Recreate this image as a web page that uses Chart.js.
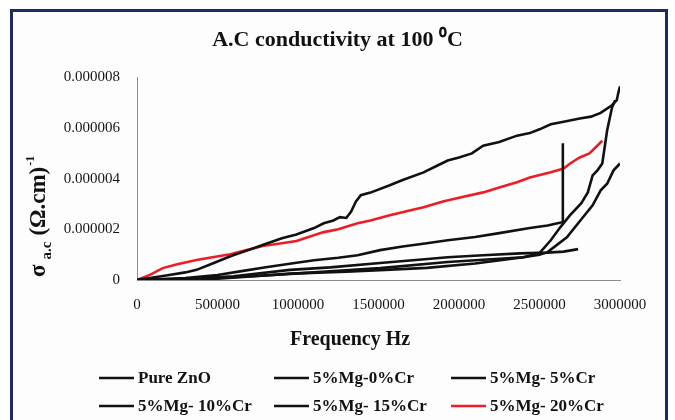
<!DOCTYPE html>
<html>
<head>
<meta charset="utf-8">
<script src="https://cdn.jsdelivr.net/npm/chart.js@4/dist/chart.umd.min.js"></script>
<style>
  html, body { margin: 0; padding: 0; background: #fff; }
  #marco {
    position: absolute; left: 10px; top: 9px; width: 652px; height: 420px;
    border: 3px solid #1d2b5e; border-bottom: none; background: #fdfdfe;
  }
  #grafica { position: absolute; left: 0; top: 0; }
</style>
</head>
<body>
<div id="marco"></div>
<canvas id="grafica" width="675" height="420"></canvas>
<script>
// Textos
const tituloGrafico = "A.C conductivity at 100 \u2070C";
const tituloX = "Frequency Hz";
const etiquetas = ["Pure ZnO", "5%Mg-0%Cr", "5%Mg- 5%Cr", "5%Mg- 10%Cr", "5%Mg- 15%Cr", "5%Mg- 20%Cr"];
const colores = ["#111111", "#111111", "#111111", "#111111", "#111111", "#ee1c24"];

// Ticks
const ticksX = [0, 500000, 1000000, 1500000, 2000000, 2500000, 3000000];
const ticksY = [0, 0.000002, 0.000004, 0.000006, 0.000008];

// Pure ZnO
const fA = [0, 100000, 200000, 300000, 370000, 450000, 580000, 700000, 780000, 900000, 990000, 1100000, 1160000, 1220000, 1260000, 1300000, 1330000, 1360000, 1390000, 1450000, 1570000, 1650000, 1780000, 1860000, 1930000, 2000000, 2080000, 2150000, 2250000, 2360000, 2440000, 2500000, 2570000, 2650000, 2750000, 2820000, 2880000, 2950000, 2980000, 2990000, 3000000];
const sA = [0, 0.1e-6, 0.2e-6, 0.3e-6, 0.4e-6, 0.6e-6, 0.94e-6, 1.2e-6, 1.38e-6, 1.65e-6, 1.8e-6, 2.05e-6, 2.24e-6, 2.35e-6, 2.48e-6, 2.45e-6, 2.7e-6, 3.1e-6, 3.35e-6, 3.45e-6, 3.74e-6, 3.95e-6, 4.25e-6, 4.5e-6, 4.72e-6, 4.84e-6, 5.0e-6, 5.3e-6, 5.45e-6, 5.7e-6, 5.8e-6, 5.95e-6, 6.15e-6, 6.25e-6, 6.38e-6, 6.45e-6, 6.6e-6, 6.9e-6, 7.1e-6, 7.4e-6, 7.65e-6];

// 5%Mg-0%Cr
const fB = [0, 300000, 500000, 650000, 800000, 980000, 1100000, 1250000, 1370000, 1510000, 1650000, 1800000, 1930000, 2100000, 2250000, 2440000, 2550000, 2640000, 2645000];
const sB = [0, 0.08e-6, 0.2e-6, 0.35e-6, 0.5e-6, 0.67e-6, 0.78e-6, 0.88e-6, 0.98e-6, 1.18e-6, 1.32e-6, 1.45e-6, 1.57e-6, 1.7e-6, 1.85e-6, 2.05e-6, 2.15e-6, 2.28e-6, 5.4e-6];

// 5%Mg- 5%Cr
const fC = [0, 400000, 800000, 1100000, 1510000, 1930000, 2200000, 2400000, 2500000, 2570000, 2630000, 2690000, 2760000, 2800000, 2830000, 2860000, 2890000, 2920000, 2950000, 2970000];
const sC = [0, 0.05e-6, 0.18e-6, 0.3e-6, 0.47e-6, 0.71e-6, 0.82e-6, 0.9e-6, 1.06e-6, 1.57e-6, 2.09e-6, 2.56e-6, 3.03e-6, 3.46e-6, 4.13e-6, 4.33e-6, 4.6e-6, 5.9e-6, 6.8e-6, 7.1e-6];

// 5%Mg- 10%Cr
const fD = [0, 500000, 950000, 1300000, 1510000, 1800000, 2100000, 2400000, 2500000, 2550000, 2670000, 2770000, 2830000, 2880000, 2920000, 2960000, 3000000];
const sD = [0, 0.05e-6, 0.25e-6, 0.33e-6, 0.39e-6, 0.48e-6, 0.65e-6, 0.9e-6, 1.0e-6, 1.1e-6, 1.69e-6, 2.48e-6, 2.95e-6, 3.54e-6, 3.8e-6, 4.33e-6, 4.6e-6];

// 5%Mg- 15%Cr
const fE = [0, 300000, 600000, 950000, 1200000, 1510000, 1750000, 1930000, 2150000, 2380000, 2550000, 2650000, 2740000];
const sE = [0, 0.05e-6, 0.15e-6, 0.4e-6, 0.5e-6, 0.67e-6, 0.8e-6, 0.9e-6, 0.98e-6, 1.05e-6, 1.08e-6, 1.12e-6, 1.22e-6];

// 5%Mg- 20%Cr (rojo)
const fF = [0, 80000, 160000, 250000, 370000, 450000, 580000, 680000, 780000, 900000, 990000, 1160000, 1250000, 1370000, 1450000, 1570000, 1700000, 1780000, 1900000, 2000000, 2150000, 2250000, 2360000, 2440000, 2570000, 2650000, 2690000, 2750000, 2810000, 2890000];
const sF = [0, 0.2e-6, 0.47e-6, 0.62e-6, 0.79e-6, 0.88e-6, 1.02e-6, 1.18e-6, 1.34e-6, 1.45e-6, 1.54e-6, 1.89e-6, 2.0e-6, 2.24e-6, 2.35e-6, 2.56e-6, 2.75e-6, 2.87e-6, 3.1e-6, 3.25e-6, 3.46e-6, 3.65e-6, 3.86e-6, 4.05e-6, 4.25e-6, 4.4e-6, 4.6e-6, 4.84e-6, 5.0e-6, 5.5e-6];

const frecuencias = [fA, fB, fC, fD, fE, fF];
const sigmas = [sA, sB, sC, sD, sE, sF];

function puntos(f, s) {
  return f.map((x, i) => ({ x: x, y: s[i] }));
}

const datasets = etiquetas.map((nombre, i) => ({
  label: nombre,
  data: puntos(frecuencias[i], sigmas[i]),
  borderColor: colores[i],
  backgroundColor: colores[i],
  borderWidth: 2.6,
  pointRadius: 0,
  showLine: true,
  tension: 0
}));

// Titulo del eje Y con subindice y la leyenda en rejilla
const textosExtra = {
  id: "textosExtra",
  afterDraw(chart) {
    const c = chart.ctx;
    c.save();
    c.fillStyle = "#111";

    c.font = 'bold 20px "Liberation Serif"';
    c.textAlign = "center";
    c.textBaseline = "middle";
    c.fillText(tituloX, 350, 340);

    // eje Y
    c.save();
    c.translate(45, 277);
    c.rotate(-Math.PI / 2);
    c.textAlign = "left";
    c.textBaseline = "alphabetic";
    let x = 0;
    c.font = 'bold 23px "Liberation Serif"';
    c.fillText("\u03c3", x, 0);
    x += c.measureText("\u03c3").width + 5;
    c.font = 'bold 15px "Liberation Serif"';
    c.fillText("a.c", x, 6);
    x += c.measureText("a.c").width + 6;
    c.font = 'bold 23px "Liberation Serif"';
    c.fillText("(\u03a9.cm)", x, 0);
    x += c.measureText("(\u03a9.cm)").width + 1;
    c.font = 'bold 12px "Liberation Serif"';
    c.fillText("-1", x, -11);
    c.restore();

    // leyenda
    const columnas = [99, 274, 451];
    const filas = [378, 406];
    c.font = 'bold 17px "Liberation Serif"';
    c.textAlign = "left";
    c.textBaseline = "middle";
    etiquetas.forEach((nombre, i) => {
      const x0 = columnas[i % 3];
      const y0 = filas[Math.floor(i / 3)];
      c.strokeStyle = colores[i];
      c.lineWidth = 2.5;
      c.beginPath();
      c.moveTo(x0, y0);
      c.lineTo(x0 + 35, y0);
      c.stroke();
      c.fillStyle = "#111";
      c.fillText(nombre, x0 + 39, y0 + 1);
    });
    c.restore();
  }
};

let ctx = document.getElementById("grafica").getContext("2d");
let grafica = new Chart(ctx, {
  type: "scatter",
  data: { datasets: datasets },
  options: {
    responsive: false,
    animation: false,
    layout: { padding: 0 },
    plugins: {
      legend: { display: false },
      tooltip: { enabled: false },
      title: {
        display: true,
        text: tituloGrafico,
        color: "#111",
        font: { family: "Liberation Serif", size: 22, weight: "bold" },
        padding: { top: 27, bottom: 24 }
      }
    },
    scales: {
      x: {
        type: "linear",
        min: 0,
        max: 3000000,
        afterBuildTicks: s => { s.ticks = ticksX.map(v => ({ value: v })); },
        afterFit: s => { s.height = 140; },
        grid: { display: false, drawTicks: false },
        border: { display: true, color: "#8a8a8a", width: 1 },
        ticks: {
          padding: 16,
          color: "#151515",
          font: { family: "Liberation Serif", size: 15 },
          maxRotation: 0,
          callback: v => String(v)
        }
      },
      y: {
        type: "linear",
        min: 0,
        max: 0.000008,
        afterBuildTicks: s => { s.ticks = ticksY.map(v => ({ value: v })); },
        afterFit: s => { s.width = 137; },
        grid: { display: false, drawTicks: false },
        border: { display: true, color: "#8a8a8a", width: 1 },
        ticks: {
          padding: 17,
          color: "#151515",
          font: { family: "Liberation Serif", size: 15 },
          callback: v => (v === 0 ? "0" : v.toFixed(6))
        }
      },
      derecha: {
        type: "linear",
        position: "right",
        display: true,
        afterFit: s => { s.width = 55; },
        grid: { display: false, drawTicks: false },
        border: { display: false },
        ticks: { display: false }
      }
    }
  },
  plugins: [textosExtra]
});
</script>
</body>
</html>
